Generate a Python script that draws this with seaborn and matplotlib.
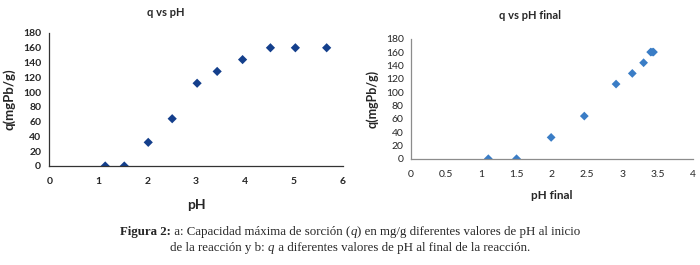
import matplotlib
matplotlib.use('Agg')
import matplotlib.pyplot as plt
import seaborn as sns
import pandas as pd

# data
ph_inicial = [1.14, 1.53, 2.02, 2.51, 3.02, 3.43, 3.95, 4.52, 5.03, 5.67]
ph_final = [1.10, 1.50, 1.99, 2.46, 2.91, 3.14, 3.30, 3.40, 3.42, 3.44]
q = [0, 0, 32, 64, 112, 128, 144, 160, 160, 160]

df = pd.DataFrame({'ph': ph_inicial, 'ph_final': ph_final, 'q': q})

sns.set_style('white')
plt.rcParams['font.family'] = ['Lato', 'DejaVu Sans']

fig = plt.figure(figsize=(7, 2.65), dpi=100)

# a: q vs pH
ax1 = fig.add_axes([0.0707, 0.3736, 0.419, 0.5019])
sns.scatterplot(data=df, x='ph', y='q', ax=ax1, marker='D', s=22,
                color='#143F8C', edgecolor='none')
ax1.set_xlim(0, 6)
ax1.set_ylim(0, 180)
ax1.set_xticks(range(0, 7))
ax1.set_yticks(range(0, 181, 20))
ax1.tick_params(axis='x', length=0, pad=8, labelsize=7.5)
ax1.tick_params(axis='y', length=0, pad=6, labelsize=7.5)
for lab in ax1.get_xticklabels() + ax1.get_yticklabels():
    lab.set_fontweight('bold')
ax1.set_title('q vs pH', fontsize=8, fontweight='bold', pad=12, x=0.397)
ax1.set_xlabel('pH', fontsize=10, fontweight='bold', labelpad=9)
ax1.set_ylabel('q(mgPb/g)', fontsize=9.5, fontweight='bold', labelpad=5)
sns.despine(ax=ax1)
for sp in ['left', 'bottom']:
    ax1.spines[sp].set_color('#333333')
    ax1.spines[sp].set_linewidth(0.9)

# b: q vs pH final
ax2 = fig.add_axes([0.5867, 0.401, 0.4033, 0.4528])
sns.scatterplot(data=df, x='ph_final', y='q', ax=ax2, marker='D', s=20,
                color='#3A7DC6', edgecolor='none')
ax2.set_xlim(0, 4)
ax2.set_ylim(0, 180)
ax2.set_xticks([0, 0.5, 1, 1.5, 2, 2.5, 3, 3.5, 4])
ax2.set_xticklabels(['0', '0.5', '1', '1.5', '2', '2.5', '3', '3.5', '4'])
ax2.set_yticks(range(0, 181, 20))
ax2.tick_params(axis='x', length=0, pad=8, labelsize=7.5)
ax2.tick_params(axis='y', length=0, pad=5, labelsize=7.5)
ax2.set_title('q vs pH final', fontsize=8, fontweight='bold', pad=14, x=0.423)
ax2.set_xlabel('pH final', fontsize=8.5, fontweight='bold', labelpad=8)
ax2.set_ylabel('q(mgPb/g)', fontsize=9, fontweight='bold', labelpad=5)
sns.despine(ax=ax2)
for sp in ['left', 'bottom']:
    ax2.spines[sp].set_color('#8C8C8C')
    ax2.spines[sp].set_linewidth(0.9)

# caption, built from pieces so bold/italic can be mixed
linea1 = [('Figura 2:', 'bold', 'normal'),
          (' a: Capacidad máxima de sorción (', 'normal', 'normal'),
          ('q', 'normal', 'italic'),
          (') en mg/g diferentes valores de pH al inicio', 'normal', 'normal')]
linea2 = [('de la reacción y b: ', 'normal', 'normal'),
          ('q', 'normal', 'italic'),
          (' a diferentes valores de pH al final de la reacción.', 'normal', 'normal')]

renderer = fig.canvas.get_renderer()
W = fig.bbox.width
for partes, ypix in [(linea1, 232), (linea2, 248)]:
    textos = []
    for s, w, st in partes:
        t = fig.text(0, 1 - ypix / 265, s, fontsize=9.3, family='Liberation Serif',
                     fontweight=w, fontstyle=st, va='center', ha='left')
        textos.append(t)
    anchos = [t.get_window_extent(renderer).width for t in textos]
    x = (W - sum(anchos)) / 2
    for t, a in zip(textos, anchos):
        t.set_x(x / W)
        x += a

fig.savefig('out.png', dpi=100)
